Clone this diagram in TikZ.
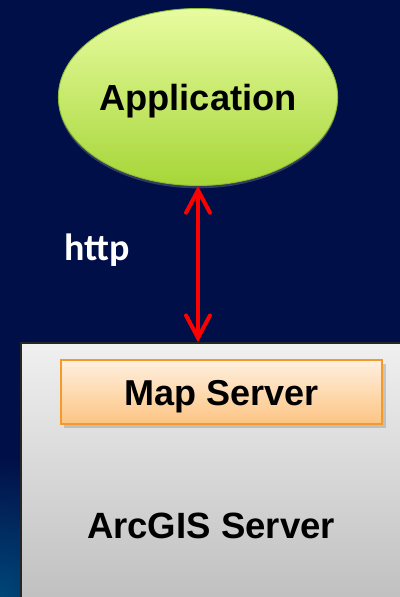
\documentclass[tikz,border=0pt]{standalone}
\usepackage{fontspec}
\setmainfont{Liberation Sans}
\newfontfamily\httpfont{Carlito}
\usetikzlibrary{shapes.geometric,shadows,arrows.meta}

\definecolor{navybg}{RGB}{1,15,72}
\definecolor{glowbg}{RGB}{0,70,120}
\definecolor{limetop}{RGB}{232,252,160}
\definecolor{limebot}{RGB}{166,214,56}
\definecolor{limeedge}{RGB}{140,190,50}
\definecolor{peachtop}{RGB}{254,240,224}
\definecolor{peachbot}{RGB}{253,196,130}
\definecolor{peachedge}{RGB}{242,155,42}
\definecolor{servertop}{RGB}{240,240,240}
\definecolor{serverbot}{RGB}{190,190,190}

\tikzset{
	appnode/.style={ellipse, draw=limeedge, line width=0.6pt, top color=limetop, bottom color=limebot,
		minimum width=6.8cm, minimum height=4.425cm, inner sep=0pt,
		text height=24.5pt, text depth=5.2pt,
		drop shadow={shadow xshift=0pt, shadow yshift=-2pt, opacity=0.4},
		font=\fontsize{25.8}{30}\selectfont\bfseries},
	mapnode/.style={rectangle, draw=peachedge, line width=1.3pt, top color=peachtop, bottom color=peachbot,
		minimum width=8.025cm, minimum height=1.6cm, inner sep=0pt,
		text height=25pt, text depth=5.2pt,
		drop shadow={shadow xshift=2.5pt, shadow yshift=-3pt, opacity=0.35},
		font=\fontsize{25.6}{30}\selectfont\bfseries},
	servernode/.style={rectangle, draw=black!85, line width=1.1pt, top color=servertop, bottom color=serverbot,
		minimum width=9.725cm, minimum height=6.675cm, inner sep=0pt},
	serverlabel/.style={font=\fontsize{26}{30}\selectfont\bfseries},
	httplabel/.style={text=white, font=\httpfont\fontsize{27}{30}\selectfont\bfseries},
	httparrow/.style={draw=red, line width=2.85pt, {Straight Barb[length=16pt,width=17pt,line cap=round]}-{Straight Barb[length=16pt,width=17pt,line cap=round]}}
}

\begin{document}
\begin{tikzpicture}[x=0.025cm, y=0.025cm]
	\clip (0,0) rectangle (400,-597);
	%background
	\fill[navybg] (0,0) rectangle (400,-597);
	\shade[inner color=glowbg, outer color=navybg] (0,-597) circle (140);
	
	%server
	\node[servernode] (arcgis) at (215.5,-476.5) {};
	\node[serverlabel] (arcgislabel) at (211,-526) {ArcGIS Server};
	\node[mapnode] (map) at (221.5,-392) {Map Server};
	
	%application
	\node[appnode] (app) at (198,-97) {Application};
	
	%http
	\draw[httparrow] (app.south) -- (app.south |- arcgis.north);
	\node[httplabel] (http) at (97,-250) {http};
\end{tikzpicture}
\end{document}
